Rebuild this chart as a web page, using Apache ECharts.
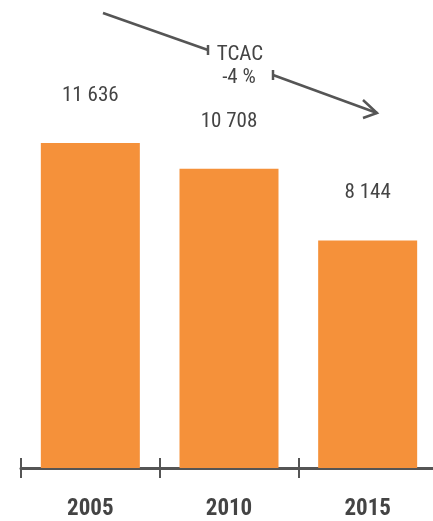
<!DOCTYPE html>
<html>
<head>
<meta charset="utf-8">
<script src="https://cdn.jsdelivr.net/npm/echarts@6/dist/echarts.min.js"></script>
<style>
  html, body { margin: 0; padding: 0; background: #fff; }
  #chart { width: 433px; height: 521px; }
</style>
</head>
<body>
<div id="chart"></div>
<script>
// Annual figures by year
const years = ['2005', '2010', '2015'];
const values = [11636, 10708, 8144];
const cagrTitle = 'TCAC';
const cagrValue = '-4 %';

const FONT = '"Roboto Condensed", "Liberation Sans Narrow", "DejaVu Sans Condensed", "Roboto", sans-serif';
const TEXT = '#444444';
const LINE = '#555555';
const BAR = '#F5913A';

function fmt(v) {
  return String(v).replace(/\B(?=(\d{3})+(?!\d))/g, ' ');
}

const chart = echarts.init(document.getElementById('chart'), null, { renderer: 'canvas' });

chart.setOption({
  animation: false,
  // the axis runs past the right edge of the canvas
  grid: { left: 21, top: 21, width: 416, bottom: 53, outerBoundsMode: 'none', containLabel: false },
  xAxis: [
    {
      type: 'category',
      data: years,
      axisLine: { lineStyle: { color: LINE, width: 3 } },
      axisTick: { show: true, length: 10, lineStyle: { color: LINE, width: 2 } },
      axisLabel: {
        margin: 30,
        color: TEXT,
        fontFamily: FONT,
        fontWeight: 'bold',
        fontSize: 23
      }
    },
    {
      type: 'category',
      data: years,
      position: 'bottom',
      axisLine: { show: false },
      axisTick: { show: true, inside: true, length: 10, lineStyle: { color: LINE, width: 2 } },
      axisLabel: { show: false }
    }
  ],
  yAxis: {
    type: 'value',
    min: 0,
    max: 16000,
    show: false,
    splitLine: { show: false }
  },
  series: [{
    type: 'bar',
    data: values,
    barWidth: 99,
    itemStyle: { color: BAR },
    label: {
      show: true,
      position: 'top',
      distance: 37,
      color: TEXT,
      fontFamily: FONT,
      fontSize: 21,
      formatter: p => fmt(p.value)
    }
  }],
  graphic: [
    // trend line, first segment with end stop
    { type: 'line', shape: { x1: 103, y1: 13, x2: 208, y2: 50 }, style: { stroke: LINE, lineWidth: 2.5 } },
    { type: 'line', shape: { x1: 208, y1: 45, x2: 208, y2: 55 }, style: { stroke: LINE, lineWidth: 2.5 } },
    // second segment with start stop and open arrowhead
    { type: 'line', shape: { x1: 273, y1: 70, x2: 273, y2: 80 }, style: { stroke: LINE, lineWidth: 2.5 } },
    { type: 'line', shape: { x1: 273, y1: 75, x2: 377, y2: 113 }, style: { stroke: LINE, lineWidth: 2.5 } },
    { type: 'polyline', shape: { points: [[363, 100], [377, 113], [363, 118]] }, style: { stroke: LINE, lineWidth: 2.5, fill: null } },
    {
      type: 'text', x: 240, y: 55,
      style: { text: cagrTitle, fill: TEXT, font: '21px ' + FONT, textAlign: 'center', textVerticalAlign: 'middle' }
    },
    {
      type: 'text', x: 239, y: 78,
      style: { text: cagrValue, fill: TEXT, font: '21px ' + FONT, textAlign: 'center', textVerticalAlign: 'middle' }
    }
  ]
});
</script>
</body>
</html>
